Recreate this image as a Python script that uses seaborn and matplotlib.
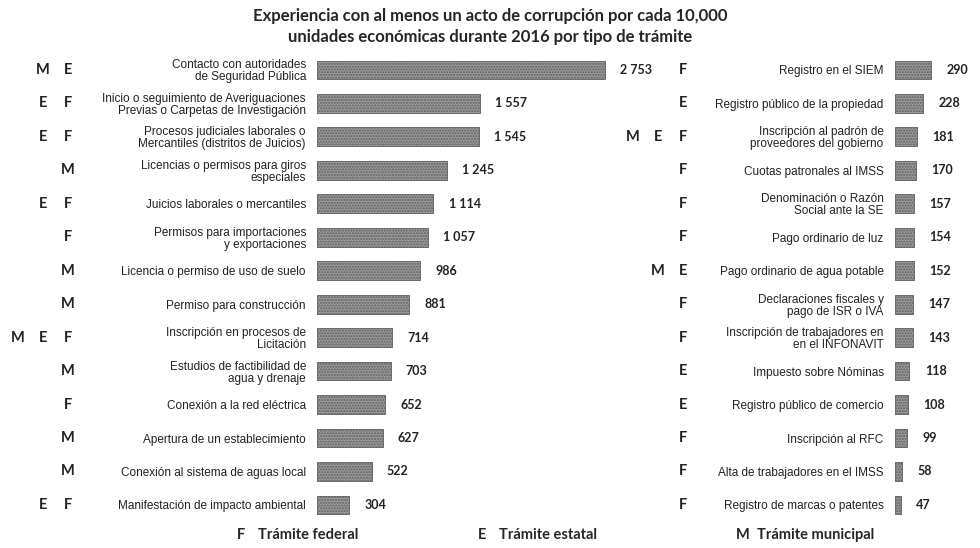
"""Corrupción por tipo de trámite - barras horizontales en dos paneles."""
import matplotlib

matplotlib.use("Agg")
import matplotlib.pyplot as plt
import matplotlib.transforms as mtransforms
import pandas as pd
import seaborn as sns

# panel izquierdo
tramites_izq = [
    "Contacto con autoridades\nde Seguridad Pública",
    "Inicio o seguimiento de Averiguaciones\nPrevias o Carpetas de Investigación",
    "Procesos judiciales laborales o\nMercantiles (distritos de Juicios)",
    "Licencias o permisos para giros\nespeciales",
    "Juicios laborales o mercantiles",
    "Permisos para importaciones\ny exportaciones",
    "Licencia o permiso de uso de suelo",
    "Permiso para construcción",
    "Inscripción en procesos de\nLicitación",
    "Estudios de factibilidad de\nagua y drenaje",
    "Conexión a la red eléctrica",
    "Apertura de un establecimiento",
    "Conexión al sistema de aguas local",
    "Manifestación de impacto ambiental",
]
valores_izq = [2753, 1557, 1545, 1245, 1114, 1057, 986, 881, 714, 703, 652, 627, 522, 304]
nivel_izq = ["ME", "EF", "EF", "M", "EF", "F", "M", "M", "MEF", "M", "F", "M", "M", "EF"]

# panel derecho
tramites_der = [
    "Registro en el SIEM",
    "Registro público de la propiedad",
    "Inscripción al padrón de\nproveedores del gobierno",
    "Cuotas patronales al IMSS",
    "Denominación o Razón\nSocial ante la SE",
    "Pago ordinario de luz",
    "Pago ordinario de agua potable",
    "Declaraciones fiscales y\npago de ISR o IVA",
    "Inscripción de trabajadores en\nen el INFONAVIT",
    "Impuesto sobre Nóminas",
    "Registro público de comercio",
    "Inscripción al RFC",
    "Alta de trabajadores en el IMSS",
    "Registro de marcas o patentes",
]
valores_der = [290, 228, 181, 170, 157, 154, 152, 147, 143, 118, 108, 99, 58, 47]
nivel_der = ["F", "E", "MEF", "F", "F", "F", "ME", "F", "F", "E", "E", "F", "F", "F"]

leyenda = [("F", "Trámite federal"), ("E", "Trámite estatal"), ("M", "Trámite municipal")]

sns.set_style("white")
plt.rcParams["font.family"] = ["Liberation Sans", "DejaVu Sans"]

fig = plt.figure(figsize=(9.8, 5.48), dpi=100)
ax_izq = fig.add_axes([0.3235, 0.048, 0.32, 0.855])
ax_der = fig.add_axes([0.913, 0.048, 0.0816, 0.855])

paso = 25 / 980  # separación entre letras de nivel

paneles = [
    (ax_izq, tramites_izq, valores_izq, nivel_izq, 3000, 0.069),
    (ax_der, tramites_der, valores_der, nivel_der, 640, 0.697),
]
for ax, cats, vals, niveles, xmax, x_nivel in paneles:
    df = pd.DataFrame({"tramite": cats, "valor": vals})
    sns.barplot(data=df, x="valor", y="tramite", orient="h", color="#9a9a9a",
                width=0.56, ax=ax, saturation=1)
    for p in ax.patches:
        p.set_hatch("......")
        p.set_edgecolor("#5e5e5e")
        p.set_linewidth(0.6)
    ax.set_xlim(0, xmax)
    ax.set_ylim(13.5, -0.5)
    ax.set_xlabel("")
    ax.set_ylabel("")
    ax.set_xticks([])
    ax.tick_params(axis="y", length=0, pad=8)
    for lab in ax.get_yticklabels():
        lab.set_fontsize(8.5)
        lab.set_color("#222222")
        lab.set_linespacing(1.0)
    sns.despine(ax=ax, left=True, bottom=True)
    for i, v in enumerate(vals):
        ax.annotate(f"{v:,}".replace(",", " "), xy=(v, i), xytext=(11, 0),
                    textcoords="offset points", va="center", ha="left",
                    fontsize=9, fontweight="bold", color="#222222",
                    family=["Lato", "DejaVu Sans"], annotation_clip=False)
    trans = mtransforms.blended_transform_factory(fig.transFigure, ax.transData)
    for i, n in enumerate(niveles):
        for k, letra in enumerate(reversed(n)):
            fig.text(x_nivel - k * paso, i, letra, transform=trans, ha="center",
                     va="center", fontsize=10.5, fontweight="bold",
                     family=["Lato", "DejaVu Sans"], color="#222222")

fig.text(0.5, 0.985,
         "Experiencia con al menos un acto de corrupción por cada 10,000\n"
         "unidades económicas durante 2016 por tipo de trámite",
         ha="center", va="top", fontsize=12, fontweight="bold",
         family=["Lato", "DejaVu Sans"], linespacing=1.4)

for (letra, texto), x in zip(leyenda, [0.242, 0.488, 0.751]):
    fig.text(x, 0.024, letra, ha="left", va="center", fontsize=10.5,
             fontweight="bold", family=["Lato", "DejaVu Sans"])
    fig.text(x + 0.021, 0.024, texto, ha="left", va="center", fontsize=10.5,
             fontweight="bold", family=["Lato", "DejaVu Sans"])

fig.savefig("out.png", dpi=100)
